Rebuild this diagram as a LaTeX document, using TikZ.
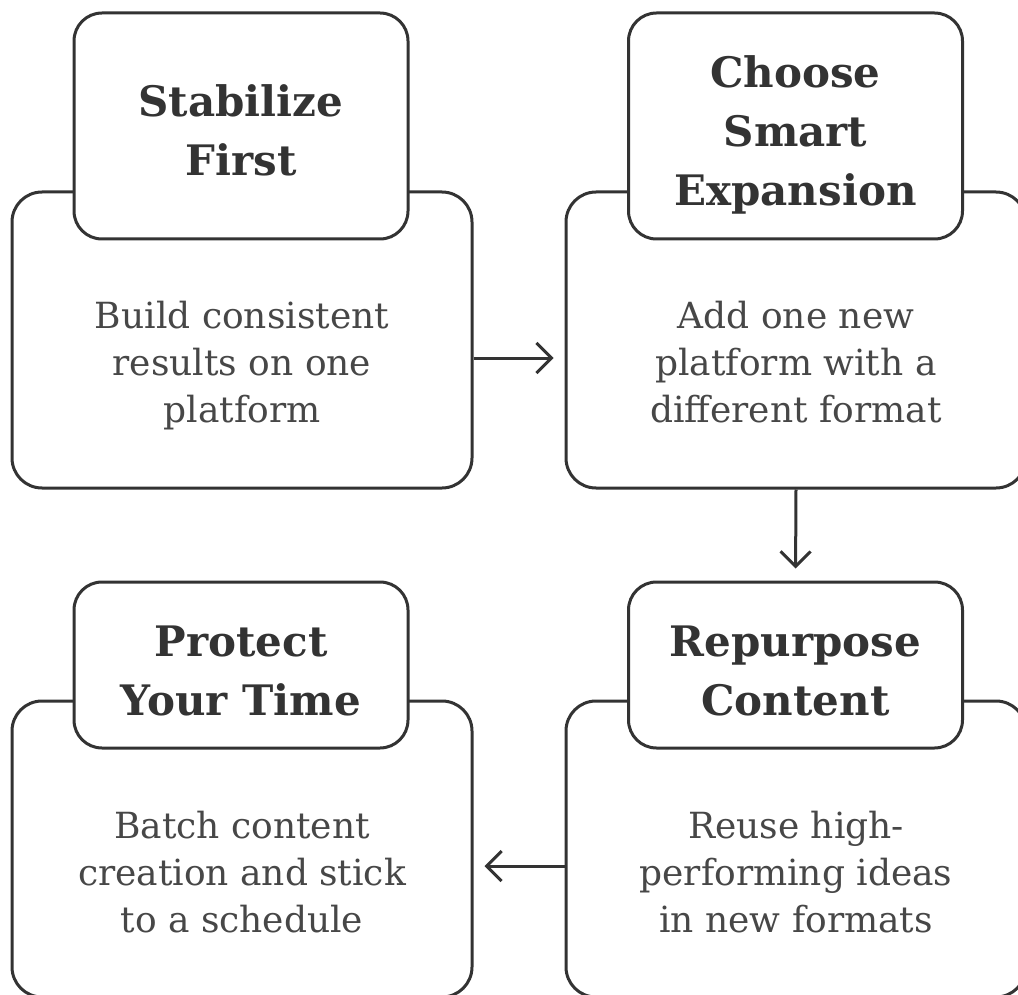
\documentclass[tikz,border=0pt]{standalone}
\usepackage{fontspec}
\setmainfont{DejaVu Serif}
\usetikzlibrary{arrows.meta}
\definecolor{ink}{HTML}{333333}
\definecolor{bodyink}{HTML}{474747}
\newcommand\myTiTop{\rule{0pt}{51pt}}
\newcommand\myTiBot{\rule[-10pt]{0pt}{0pt}}
\newcommand\myBoTop{\rule{0pt}{32pt}}
\newcommand\myBoBot{\rule[-10pt]{0pt}{0pt}}
\tikzset{
  outerbox/.style={draw=ink, line width=3pt, rounded corners=30pt, fill=white,
    minimum width=460pt, minimum height=296pt, inner sep=0pt},
  titlebox/.style={draw=ink, line width=3pt, rounded corners=28pt, fill=white,
    minimum width=334pt, inner sep=0pt, align=center, text=ink,
    font=\bfseries\fontsize{42}{59}\selectfont},
  bodytext/.style={align=center, text=bodyink, inner sep=0pt,
    font=\fontsize{36}{47}\selectfont},
  arr/.style={draw=ink, line width=3pt, -{Straight Barb[length=15pt,width=30pt]}},
}
\begin{document}
\begin{tikzpicture}[x=1pt,y=-1pt]
\path[use as bounding box, clip] (0,0) rectangle (1018,995);
% top-left
\node[outerbox] (o1) at (242,340) {};
\node[titlebox, minimum height=226pt] (t1) at (241,126) {\myTiTop Stabilize\\First\myTiBot};
\node[bodytext] (b1) at (242,364) {\myBoTop Build consistent\\results on one\\platform\myBoBot};
% top-right
\node[outerbox] (o2) at (796,340) {};
\node[titlebox, minimum height=226pt] (t2) at (795.5,126) {\myTiTop Choose\\Smart\\Expansion\myTiBot};
\node[bodytext] (b2) at (796,364) {\myBoTop Add one new\\platform with a\\different format\myBoBot};
% bottom-right
\node[outerbox] (o3) at (796,849) {};
\node[titlebox, minimum height=166pt] (t3) at (795.5,665) {\myTiTop Repurpose\\Content\myTiBot};
\node[bodytext] (b3) at (796,874) {\myBoTop Reuse high-\\performing ideas\\in new formats\myBoBot};
% bottom-left
\node[outerbox] (o4) at (242,849) {};
\node[titlebox, minimum height=166pt] (t4) at (241,665) {\myTiTop Protect\\Your Time\myTiBot};
\node[bodytext] (b4) at (242,874) {\myBoTop Batch content\\creation and stick\\to a schedule\myBoBot};
% connectors
\draw[arr, shorten >=11pt] ([yshift=-18pt]o1.east) -- ([yshift=-18pt]o2.west);
\draw[arr, shorten >=12pt] (o2.south) -- (t3.north);
\draw[arr, shorten >=11pt] ([yshift=-17pt]o3.west) -- ([yshift=-17pt]o4.east);
\end{tikzpicture}
\end{document}
